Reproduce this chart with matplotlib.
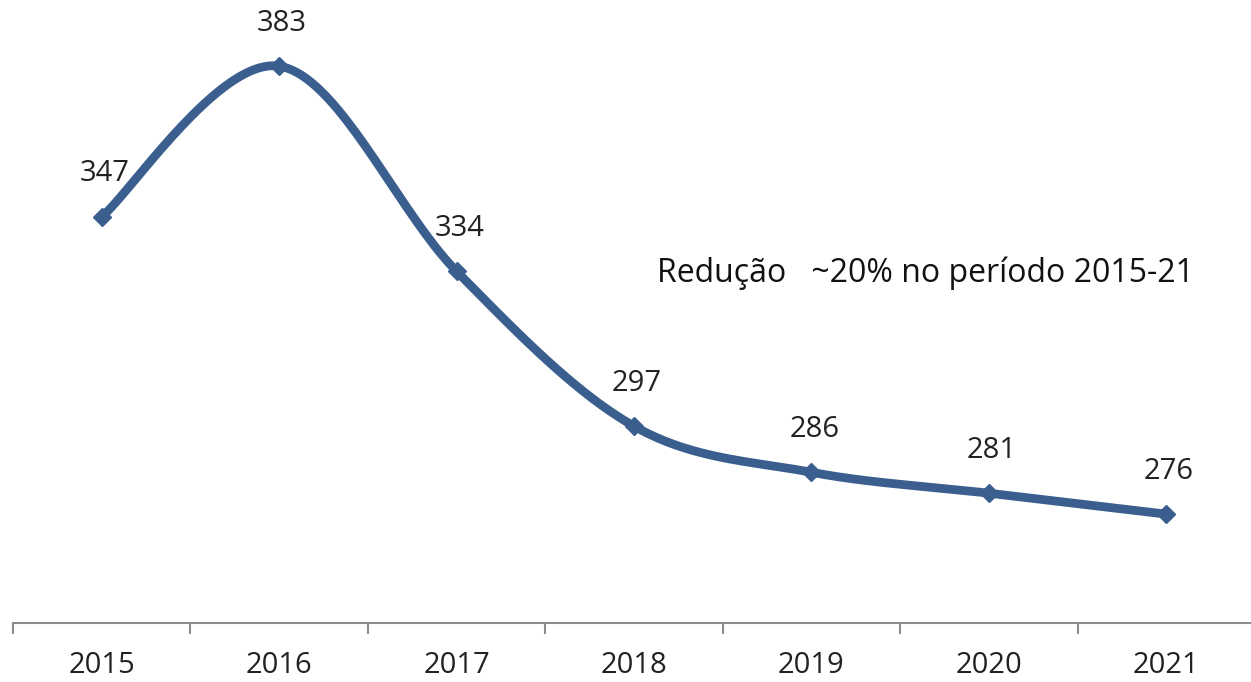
import numpy as np
import matplotlib
matplotlib.use('Agg')
import matplotlib.pyplot as plt

years = ['2015', '2016', '2017', '2018', '2019', '2020', '2021']
values = [347, 383, 334, 297, 286, 281, 276]
note = 'Redução   ~20% no período 2015-21'

line_color = '#3A5F8F'
plt.rcParams['font.family'] = ['Open Sans', 'DejaVu Sans']


def smooth(xs, ys, n=40):
    # excel style smoothed line (catmull-rom bezier)
    pts = np.column_stack([xs, ys]).astype(float)
    p = np.vstack([pts[0], pts, pts[-1]])
    out = []
    t = np.linspace(0, 1, n)[:, None]
    for i in range(1, len(p) - 2):
        p0, p1, p2, p3 = p[i - 1], p[i], p[i + 1], p[i + 2]
        c1 = p1 + (p2 - p0) / 6
        c2 = p2 - (p3 - p1) / 6
        seg = ((1 - t) ** 3) * p1 + 3 * ((1 - t) ** 2) * t * c1 + 3 * (1 - t) * t ** 2 * c2 + t ** 3 * p2
        out.append(seg if i == 1 else seg[1:])
    out = np.vstack(out)
    return out[:, 0], out[:, 1]


x = np.arange(len(years))
fig = plt.figure(figsize=(12.51, 6.82), dpi=100)
ax = fig.add_axes([13 / 1251, 59 / 682, 1242 / 1251, 623 / 682])

sx, sy = smooth(x, values)
ax.plot(sx, sy, color=line_color, lw=6.3, solid_capstyle='butt')
ax.plot(x, values, 'D', color=line_color, ms=9)

for xi, v in zip(x, values):
    ax.annotate(str(v), (xi, v), xytext=(2, 31), textcoords='offset points',
                ha='center', va='center', fontsize=21, color='#222222')

ax.text(3.13, 333.5, note, ha='left', va='center', fontsize=23, color='#111111')

ax.set_xlim(-0.5, 6.5)
ax.set_ylim(250, 398.8)
ax.set_xticks(x)
ax.set_xticklabels(years, fontsize=21, color='#222222')
ax.tick_params(axis='x', which='major', length=0, pad=20)
ax.set_xticks(np.arange(-0.5, 7, 1), minor=True)
ax.tick_params(axis='x', which='minor', length=8, width=1.5, color='#8c8c8c')
ax.set_yticks([])
for s in ['top', 'right', 'left']:
    ax.spines[s].set_visible(False)
ax.spines['bottom'].set_color('#8c8c8c')
ax.spines['bottom'].set_linewidth(1.5)

fig.savefig('out.png', dpi=100)
